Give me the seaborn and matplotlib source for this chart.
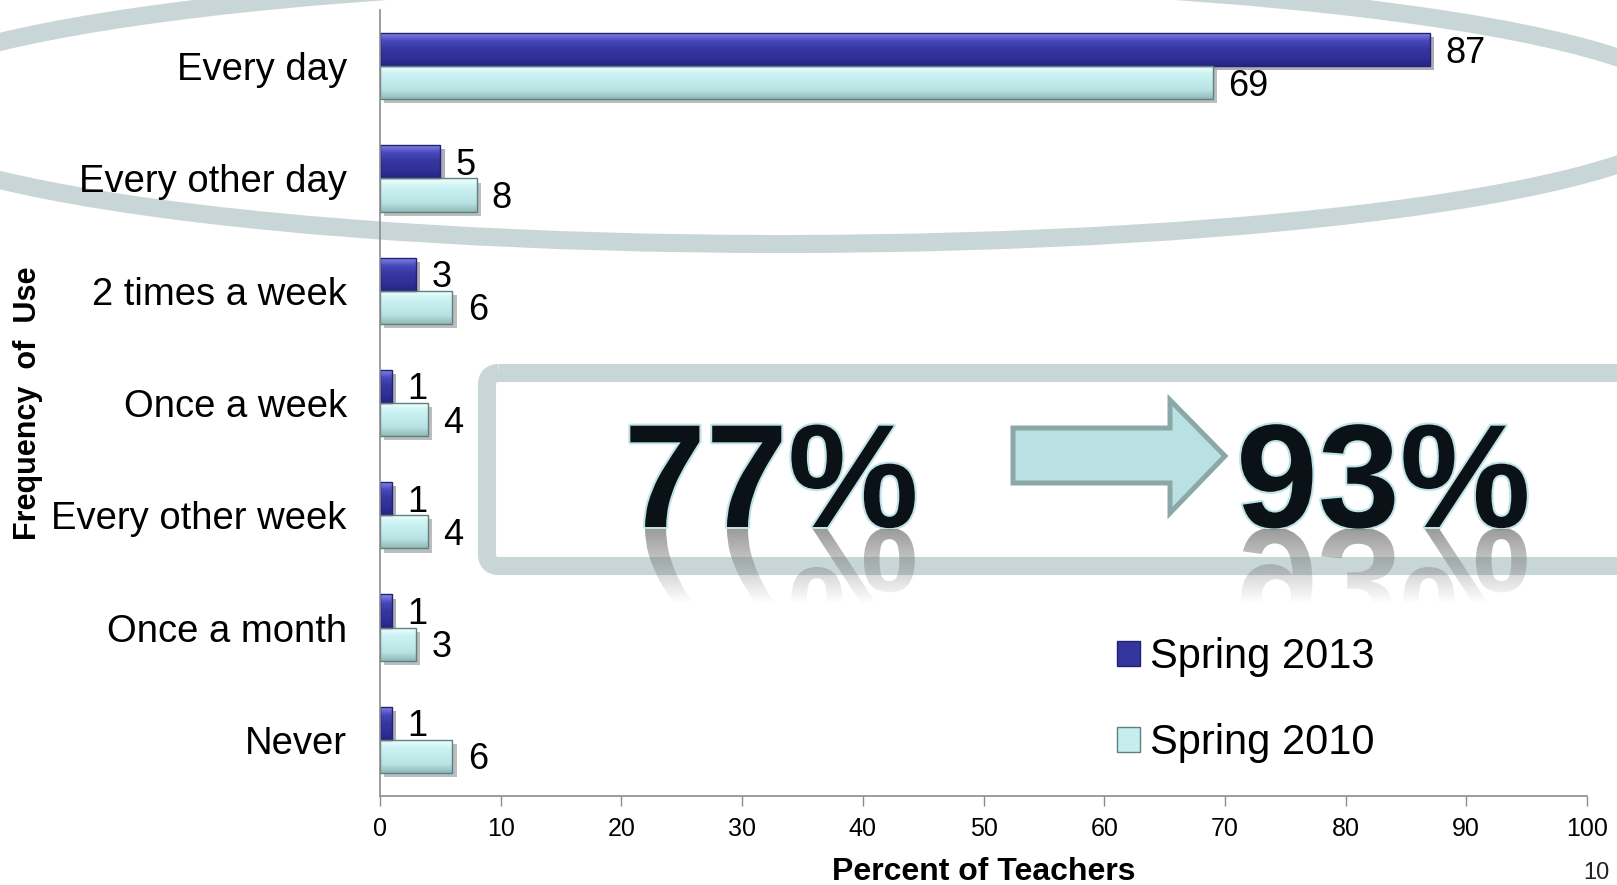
import numpy as np
import pandas as pd
import matplotlib
matplotlib.use("Agg")
import matplotlib.pyplot as plt
import matplotlib.patheffects as pe
from matplotlib.patches import Ellipse, FancyBboxPatch, Polygon, PathPatch, Patch
from matplotlib.textpath import TextPath
from matplotlib.font_manager import FontProperties
import seaborn as sns

# data
frequency = ["Every day", "Every other day", "2 times a week", "Once a week",
             "Every other week", "Once a month", "Never"]
spring_2013 = [87, 5, 3, 1, 1, 1, 1]
spring_2010 = [69, 8, 6, 4, 4, 3, 6]
seasons = ["Spring 2013", "Spring 2010"]
x_ticks = list(range(0, 101, 10))

df = pd.DataFrame({
    "Frequency": frequency * 2,
    "Percent": spring_2013 + spring_2010,
    "Season": [seasons[0]] * len(frequency) + [seasons[1]] * len(frequency),
})

sns.set_theme(style="white")
plt.rcParams["font.family"] = ["Liberation Sans", "DejaVu Sans"]
plt.rcParams["text.color"] = "black"
plt.rcParams["axes.labelcolor"] = "black"
plt.rcParams["xtick.color"] = "black"
plt.rcParams["ytick.color"] = "black"

W, H = 1617, 885
fig = plt.figure(figsize=(W / 100, H / 100), dpi=100)

# overlay axes in pixel units for the slide decorations (drawn behind the chart)
ov = fig.add_axes([0, 0, 1, 1], zorder=0)
ov.set_xlim(0, W)
ov.set_ylim(H, 0)
ov.axis("off")

ax = fig.add_axes([380 / W, 1 - 796 / H, (1587 - 380) / W, (796 - 10) / H], zorder=1)
ax.patch.set_visible(False)

dark = "#35359F"
light = "#C6EEEE"
sns.barplot(data=df, y="Frequency", x="Percent", hue="Season", orient="h",
            hue_order=seasons, palette=[dark, light], width=0.59,
            edgecolor="none", legend=False, ax=ax)

# bevel-ish gradients on the bars
grad_dark = ["#8C8CF0", "#4848BC", "#36369F", "#30309A", "#262680"]
grad_light = ["#F2FFFF", "#CDF3F3", "#C3EBEB", "#B8E1E1", "#93B9B9"]
edge_cols = ["#22226E", "#5F8080"]
for container, grad, ec in zip(ax.containers, [grad_dark, grad_light], edge_cols):
    cmap = matplotlib.colors.LinearSegmentedColormap.from_list("g", grad)
    for p in container.patches:
        p.set_path_effects([pe.SimplePatchShadow(offset=(3, -3), alpha=0.35), pe.Normal()])
        x0, y0, w, h = p.get_x(), p.get_y(), p.get_width(), p.get_height()
        g = np.linspace(0, 1, 64).reshape(-1, 1)
        im = ax.imshow(g, cmap=cmap, aspect="auto", origin="upper",
                       extent=(x0, x0 + w, y0 + h, y0), zorder=p.get_zorder() + 0.1)
        im.set_clip_path(p)
        ax.add_patch(matplotlib.patches.Rectangle((x0, y0), w, h, fill=False,
                                                  edgecolor=ec, lw=1.0,
                                                  zorder=p.get_zorder() + 0.2))
    labels = ax.bar_label(container, fmt="%g", padding=11, fontsize=26, color="black")
    for lab in labels:
        lab.xyann = (11, -2.5)

ax.set_xlim(0, 100)
ax.set_ylim(6.5, -0.5)
ax.set_xticks(x_ticks)
ax.tick_params(axis="x", length=7, width=1, color="#8C8C8C", labelsize=18, pad=8,
               bottom=True, labelcolor="black")
ax.tick_params(axis="y", length=0, pad=24, labelsize=27.5, labelcolor="black")
for s in ["top", "right"]:
    ax.spines[s].set_visible(False)
for s in ["left", "bottom"]:
    ax.spines[s].set_color("#8C8C8C")
    ax.spines[s].set_linewidth(1.2)
ax.set_xlabel("Percent of Teachers", fontsize=23, fontweight="bold", labelpad=12)
ax.set_ylabel("Frequency  of  Use", fontsize=22, fontweight="bold", labelpad=6)

handles = [Patch(facecolor=dark, edgecolor="#22226E"),
           Patch(facecolor=light, edgecolor="#5F8080")]
ax.legend(handles, seasons, loc="upper left", bbox_to_anchor=(1117 / W, 1 - 637 / H),
          bbox_transform=fig.transFigure, frameon=False, fontsize=30,
          handlelength=0.55, handleheight=0.55, handletextpad=0.25,
          labelspacing=1.1, borderpad=0, borderaxespad=0)

# slide decorations
band = "#C9D6D8"
ov.add_patch(Ellipse((781, 111), 2 * 914, 2 * 133, fill=False, edgecolor=band, lw=13))
ov.add_patch(FancyBboxPatch((487, 373), 1400, 193, boxstyle="round,pad=0,rounding_size=12",
                            fill=False, edgecolor=band, lw=13))
ov.add_patch(Polygon([(1013, 428), (1170, 428), (1170, 400), (1225, 456),
                      (1170, 513), (1170, 483), (1013, 483)], closed=True,
                     facecolor="#B9E0E3", edgecolor="#8BA8A9", lw=3.6, joinstyle="miter"))

big_fp = FontProperties(family="Liberation Sans", weight="bold")
big_size = 106
for txt, x0 in [("77%", 624), ("93%", 1236)]:
    ov.text(x0, 527, txt, fontsize=big_size, fontweight="bold", color="#0B1217",
            ha="left", va="baseline",
            path_effects=[pe.Stroke(linewidth=3, foreground="#BFE3E6"), pe.Normal()])
    # reflection: a y-up text path drawn in the y-down axes comes out mirrored
    tp = TextPath((0, 0), txt, size=big_size * 100 / 72, prop=big_fp)
    tp = matplotlib.transforms.Affine2D().translate(x0, 529).transform_path(tp)
    clip = PathPatch(tp, transform=ov.transData, facecolor="none", edgecolor="none")
    ov.add_patch(clip)
    bb = tp.get_extents()
    alpha = np.linspace(0.65, 0.0, 64)
    rgba = np.zeros((64, 1, 4))
    rgba[..., :3] = 0.40
    rgba[:, 0, 3] = alpha
    im = ov.imshow(rgba, aspect="auto", origin="upper",
                   extent=(bb.x0, bb.x1, 529 + 75, 529), zorder=3)
    im.set_clip_path(clip)

ov.text(1583, 884, "10", fontsize=17, color="#222222", ha="left", va="bottom")
ov.set_xlim(0, W)
ov.set_ylim(H, 0)

fig.savefig("out.png", dpi=100)
